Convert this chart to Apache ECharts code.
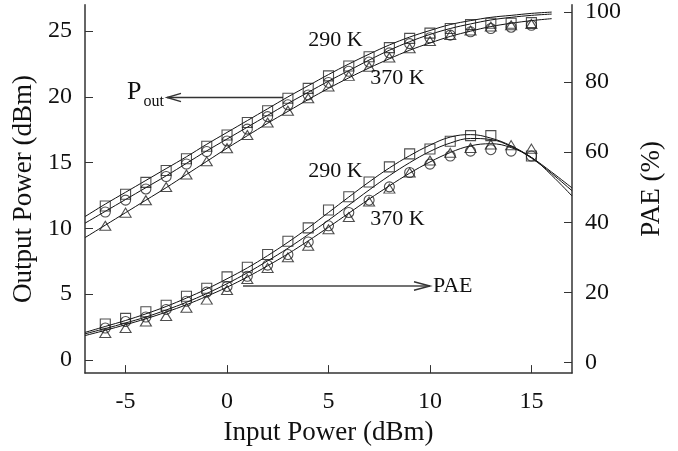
<!DOCTYPE html>
<html><head><meta charset="utf-8">
<script src="https://cdn.jsdelivr.net/npm/echarts@6/dist/echarts.min.js"></script>
<style>html,body{margin:0;padding:0;background:#fff}#c{width:678px;height:451px}</style>
</head><body><div id="c"></div>
<script>
// measured input powers (dBm)
const xMeas = [-6,-5,-4,-3,-2,-1,0,1,2,3,4,5,6,7,8,9,10,11,12,13,14,15];
// Output power markers (dBm)
const poutSquare = [11.7,12.6,13.5,14.4,15.3,16.25,17.1,18.05,18.95,19.9,20.65,21.6,22.35,23.05,23.75,24.45,24.85,25.2,25.5,25.6,25.6,25.65];
const poutCircle = [11.25,12.15,13.0,13.95,14.9,15.85,16.65,17.55,18.5,19.4,20.15,21.1,21.95,22.65,23.35,24.05,24.5,24.7,24.95,25.2,25.3,25.45];
const poutTriangle = [10.2,11.2,12.15,13.15,14.1,15.1,16.1,17.1,18.05,18.95,19.9,20.8,21.6,22.3,23.0,23.7,24.25,24.7,25.05,25.35,25.45,25.55];
// PAE markers (%)
const paeSquare = [11.0,12.6,14.5,16.35,18.9,21.2,24.45,27.2,30.8,34.6,38.4,43.5,47.3,51.5,55.8,59.5,60.9,63.1,64.7,64.7,null,58.9];
const paeCircle = [9.85,11.7,13.0,15.15,17.5,20.1,21.7,24.6,27.8,30.8,34.4,39.0,42.8,46.3,50.1,54.2,56.6,58.9,60.3,60.7,60.3,58.9];
const paeTriangle = [8.45,9.85,11.7,13.3,15.6,17.95,20.7,23.8,27.0,30.0,33.3,38.0,41.5,45.9,49.6,54.2,57.6,59.8,61.2,62.2,62.0,61.0];
// model curves
const xPoutModel = [-7,-6,-5,-4,-3,-2,-1,0,1,2,3,4,5,6,7,8,9,10,11,12,13,14,15,16];
const poutModelA = [10.9,11.85,12.75,13.65,14.55,15.45,16.4,17.3,18.2,19.1,20.0,20.85,21.7,22.5,23.25,23.95,24.55,25.05,25.5,25.8,26.05,26.2,26.35,26.45];
const poutModelB = [10.4,11.3,12.2,13.1,14.0,14.95,15.9,16.8,17.7,18.6,19.5,20.35,21.2,22.0,22.8,23.55,24.2,24.75,25.2,25.55,25.85,26.05,26.2,26.3];
const poutModelC = [9.3,10.25,11.2,12.15,13.1,14.1,15.1,16.1,17.05,18.0,18.9,19.8,20.65,21.45,22.2,22.9,23.55,24.1,24.6,25.0,25.35,25.6,25.8,25.95];
const xPaeModel = [-7,-6,-5,-4,-3,-2,-1,0,1,2,3,4,5,6,7,8,9,10,11,12,13,14,15,16,17];
const paeModel1 = [8.6,10.3,12.0,13.9,16.0,18.4,21.0,23.9,27.0,30.5,34.3,38.4,42.8,47.2,51.5,55.5,59.0,62.0,64.3,65.0,64.0,61.8,58.5,54.3,49.8];
const paeModel2 = [8.2,9.7,11.3,13.0,15.0,17.2,19.7,22.5,25.6,29.0,32.6,36.5,40.6,44.9,49.2,53.3,57.0,60.2,62.6,63.9,63.6,61.6,58.3,53.9,49.0];
const paeModel3 = [7.7,9.2,10.8,12.5,14.4,16.5,18.9,21.5,24.4,27.6,31.0,34.7,38.6,42.6,46.6,50.4,54.0,57.2,59.9,61.8,62.4,61.3,58.5,53.4,47.5];
// tick values
const xTicks = [-5,0,5,10,15];
const yLeftTicks = [0,5,10,15,20,25];
const yRightTicks = [0,20,40,60,80,100];

function pairs(xs, ys){ return xs.map((x,i)=>[x, ys[i]]).filter(p=>p[1]!==null); }

const serif = 'Liberation Serif';
const axisCol = '#333';
function lineSeries(xs, ys, yi){
  return {type:'line', yAxisIndex:yi, data:pairs(xs,ys), smooth:0.4, showSymbol:false, symbol:'none',
    lineStyle:{color:'#111', width:1}, silent:true, z:2};
}
function markSeries(ys, yi, sym, size){
  return {type:'scatter', yAxisIndex:yi, data:pairs(xMeas, ys), symbol:sym, symbolSize:size,
    itemStyle:{color:'rgba(0,0,0,0)', borderColor:'#222', borderWidth:1.1}, silent:true, z:3};
}
const tickLabel = {fontFamily:serif, fontSize:24, color:'#111'};
const nameStyle = {fontFamily:serif, fontSize:27, color:'#111'};

const chart = echarts.init(document.getElementById('c'));
chart.setOption({
  animation:false,
  backgroundColor:'#fff',
  grid:{left:85, right:106, top:4, bottom:71},
  xAxis:{type:'value', min:-7, max:17,
    name:'Input Power (dBm)', nameLocation:'middle', nameGap:40, nameTextStyle:nameStyle,
    axisLine:{onZero:false, lineStyle:{color:axisCol, width:1.5}},
    axisTick:{inside:true, length:8, customValues:xTicks, lineStyle:{color:axisCol, width:1}},
    axisLabel:Object.assign({customValues:xTicks, margin:17}, tickLabel),
    splitLine:{show:false}},
  yAxis:[
    {type:'value', min:-1, max:27, position:'left',
      name:'Output Power (dBm)', nameLocation:'middle', nameRotate:90, nameGap:48, nameTextStyle:nameStyle,
      axisLine:{show:true, onZero:false, lineStyle:{color:axisCol, width:1.5}},
      axisTick:{show:true, inside:true, length:8, customValues:yLeftTicks, lineStyle:{color:axisCol, width:1}},
      axisLabel:Object.assign({customValues:yLeftTicks, margin:13}, tickLabel),
      splitLine:{show:false}},
    {type:'value', min:-3, max:102, position:'right',
      name:'PAE (%)', nameLocation:'middle', nameRotate:90, nameGap:66, nameTextStyle:nameStyle,
      axisLine:{show:true, onZero:false, lineStyle:{color:axisCol, width:1.5}},
      axisTick:{show:true, inside:true, length:8, customValues:yRightTicks, lineStyle:{color:axisCol, width:1}},
      axisLabel:Object.assign({customValues:yRightTicks, margin:13}, tickLabel),
      splitLine:{show:false}}
  ],
  series:[
    lineSeries(xPoutModel, poutModelA, 0),
    lineSeries(xPoutModel, poutModelB, 0),
    lineSeries(xPoutModel, poutModelC, 0),
    lineSeries(xPaeModel, paeModel1, 1),
    lineSeries(xPaeModel, paeModel2, 1),
    lineSeries(xPaeModel, paeModel3, 1),
    markSeries(poutSquare, 0, 'rect', 10),
    markSeries(poutCircle, 0, 'circle', 10),
    markSeries(poutTriangle, 0, 'triangle', [11,9]),
    markSeries(paeSquare, 1, 'rect', 10),
    markSeries(paeCircle, 1, 'circle', 10),
    markSeries(paeTriangle, 1, 'triangle', [11,9])
  ],
  graphic:[
    {type:'text', style:{text:'290 K', x:335.5, y:40, font:'22px "Liberation Serif"', textAlign:'center', textVerticalAlign:'middle', fill:'#111'}},
    {type:'text', style:{text:'370 K', x:397.5, y:78.5, font:'22px "Liberation Serif"', textAlign:'center', textVerticalAlign:'middle', fill:'#111'}},
    {type:'text', style:{text:'290 K', x:335.5, y:171.5, font:'22px "Liberation Serif"', textAlign:'center', textVerticalAlign:'middle', fill:'#111'}},
    {type:'text', style:{text:'370 K', x:397.5, y:219.5, font:'22px "Liberation Serif"', textAlign:'center', textVerticalAlign:'middle', fill:'#111'}},
    {type:'text', style:{text:'P', x:127, y:105, font:'26px "Liberation Serif"', textAlign:'left', textVerticalAlign:'bottom', fill:'#111'}},
    {type:'text', style:{text:'out', x:143.5, y:110, font:'16px "Liberation Serif"', textAlign:'left', textVerticalAlign:'bottom', fill:'#111'}},
    {type:'line', shape:{x1:167, y1:97.5, x2:283, y2:97.5}, style:{stroke:'#333', lineWidth:1.4}},
    {type:'polyline', shape:{points:[[181,93.3],[167,97.5],[181,101.7]]}, style:{stroke:'#333', lineWidth:1.4, fill:null}},
    {type:'line', shape:{x1:243, y1:286, x2:430, y2:286}, style:{stroke:'#444', lineWidth:1.6}},
    {type:'polyline', shape:{points:[[414,281.8],[430,286],[414,290.2]]}, style:{stroke:'#333', lineWidth:1.4, fill:null}},
    {type:'text', style:{text:'PAE', x:433, y:286, font:'22px "Liberation Serif"', textAlign:'left', textVerticalAlign:'middle', fill:'#111'}}
  ]
});
</script>
</body></html>
